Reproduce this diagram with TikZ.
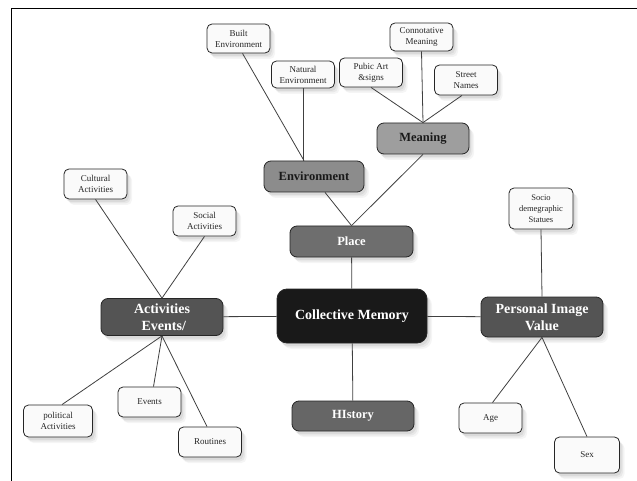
\documentclass[tikz,border=0pt]{standalone}
\usepackage{fontspec}
\setmainfont{Liberation Serif}
\usetikzlibrary{shadows}

\begin{document}
\begin{tikzpicture}[x=1pt,y=-1pt]
\tikzstyle{soft}=[drop shadow={opacity=0.14,shadow xshift=2pt,shadow yshift=-3pt},drop shadow={opacity=0.11,shadow xshift=3.5pt,shadow yshift=-4.5pt},drop shadow={opacity=0.08,shadow xshift=5pt,shadow yshift=-6pt}]
\tikzstyle{leaf}=[rectangle,rounded corners=5pt,draw=black!85,thick,fill=gray!4,text=black!85,align=center,minimum width=63pt,minimum height=29pt,inner sep=1pt,font=\fontsize{9}{11}\selectfont,soft]
\tikzstyle{branch}=[rectangle,rounded corners=7pt,draw=black!85,thick,align=center,minimum height=31pt,inner sep=2pt,font=\fontsize{12.5}{14}\selectfont\bfseries,soft]
\tikzstyle{wing}=[branch,fill=black!67,text=white,minimum width=122pt,minimum height=37pt,font=\fontsize{14}{16.5}\selectfont\bfseries]
\tikzstyle{link}=[draw=black!75,line width=0.8pt]
\useasboundingbox (0,0) rectangle (637,481);
\draw [line width=1pt] (11,481) -- (11,9) -- (637,9);
% centre
\node [branch,fill=black!90,text=white,minimum width=150pt,minimum height=54pt,rounded corners=10pt,font=\fontsize{14}{16}\selectfont\bfseries] (memory) at (352,316) {Collective Memory};
\node [branch,fill=black!57,text=white,minimum width=123pt] (place) at (351.5,241.5) {Place};
\node [branch,fill=black!60,text=white,minimum width=122pt,minimum height=30pt] (history) at (353,416) {HIstory};
\node [wing] (activities) at (162,317) {Activities\\ \ Events/};
\node [wing,minimum height=40pt] (personal) at (542,317) {Personal Image\\Value};
% place
\node [branch,fill=black!45,text=black!90,minimum width=100pt] (environment) at (314,176.5) {Environment};
\node [branch,fill=black!38,text=black!90,minimum width=92pt] (meaning) at (423,138.5) {Meaning};
\node [leaf] (built) at (238.5,38.5) {Built\\Environment};
\node [leaf,minimum height=27pt] (natural) at (303,74.5) {Natural\\Environment};
\node [leaf] (publicart) at (371,72.5) {Pubic Art\\\&signs};
\node [leaf,minimum height=28pt] (connotative) at (421.5,37) {Connotative\\Meaning};
\node [leaf,minimum height=30pt] (street) at (466,80) {Street\\Names};
% activities
\node [leaf,minimum height=30pt] (cultural) at (95.5,184) {Cultural\\Activities};
\node [leaf,minimum height=30pt] (social) at (204.5,221) {Social\\Activities};
\node [leaf,minimum width=69pt,minimum height=32pt] (political) at (58,421) {political\\Activities};
\node [leaf,minimum height=30pt] (events) at (149.5,402) {Events};
\node [leaf,minimum height=30pt] (routines) at (210,442) {Routines};
% personal
\node [leaf,minimum width=64pt,minimum height=41pt,font=\fontsize{8.5}{11}\selectfont] (socio) at (541,208.5) {Socio\\demegraphic\\Statues};
\node [leaf,minimum height=30pt] (age) at (490.5,418) {Age};
\node [leaf,minimum width=65pt,minimum height=36pt] (sex) at (587,455) {Sex};
% links
\draw [link] (place) -- (memory);
\draw [link] (memory) -- (history);
\draw [link] (memory) -- (activities);
\draw [link] (memory) -- (personal);
\draw [link] ([xshift=11pt]environment.south) -- (place.north);
\draw [link] (meaning.south) -- (place.north);
\draw [link] ([xshift=4pt]built.south) -- ([xshift=-10pt]environment.north);
\draw [link] (natural.south) -- ([xshift=-11pt]environment.north);
\draw [link] (publicart.south) -- (meaning.north);
\draw [link] (connotative.south) -- (meaning.north);
\draw [link] ([xshift=-4pt]street.south) -- (meaning.north);
\draw [link] (cultural.south) -- (activities.north);
\draw [link] (social.south) -- (activities.north);
\draw [link] (activities.south) -- ([xshift=4pt]political.north);
\draw [link] (activities.south) -- ([xshift=4pt]events.north);
\draw [link] (activities.south) -- ([xshift=-3pt]routines.north);
\draw [link] (socio.south) -- (personal.north);
\draw [link] (personal.south) -- ([xshift=2pt]age.north);
\draw [link] (personal.south) -- (sex.north);
\end{tikzpicture}
\end{document}
